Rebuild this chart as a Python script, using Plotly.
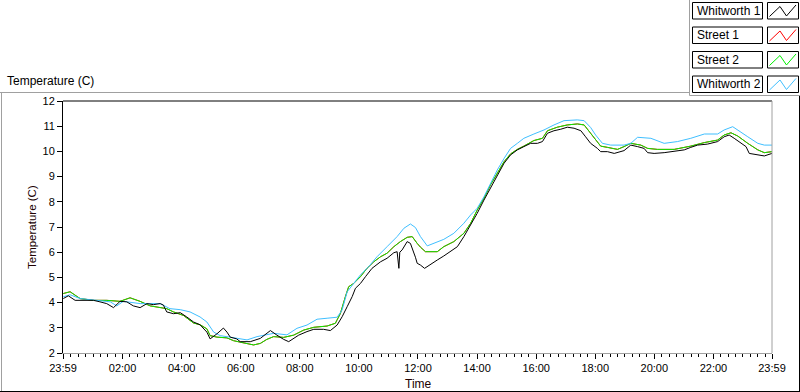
import plotly.graph_objects as go

# ---------------- data (hours since 23:59 start, temperature in C) ----------------
w1_t = [0.01, 0.18, 0.41, 0.58, 1.03, 1.25, 1.48, 1.71, 1.93, 2.16, 2.38, 2.61, 2.84, 3.06,
        3.29, 3.40, 3.51, 3.74, 3.97, 4.19, 4.42, 4.64, 4.87, 4.98, 5.21, 5.43, 5.55, 5.66,
        5.88, 6.00, 6.23, 6.34, 6.68, 6.90, 7.02, 7.24, 7.47, 7.64, 7.81, 7.98, 8.26, 8.49,
        8.82, 9.05, 9.28, 9.45, 9.62, 9.79, 9.90, 10.07, 10.24, 10.46, 10.75, 10.97, 11.20,
        11.31, 11.37, 11.40, 11.48, 11.65, 11.76, 11.88, 11.93, 11.99, 12.10, 12.24, 12.44,
        12.67, 12.89, 13.12, 13.35, 13.57, 13.80, 14.02, 14.25, 14.47, 14.70, 14.93, 15.15,
        15.38, 15.60, 15.83, 16.06, 16.23, 16.40, 16.62, 16.85, 17.07, 17.30, 17.53, 17.69,
        17.86, 18.09, 18.20, 18.43, 18.66, 18.99, 19.22, 19.45, 19.67, 19.79, 20.01, 20.35,
        20.69, 21.03, 21.25, 21.48, 21.82, 22.16, 22.38, 22.55, 22.72, 22.95, 23.12, 23.23,
        23.52, 23.74, 24.00]
w1_v = [4.16, 4.27, 4.09, 4.09, 4.09, 4.03, 3.96, 3.80, 4.05, 4.03, 3.87, 3.80, 3.96, 3.92,
        3.96, 3.90, 3.63, 3.56, 3.60, 3.43, 3.23, 3.12, 2.83, 2.56, 2.76, 2.99, 2.83, 2.63,
        2.56, 2.45, 2.45, 2.45, 2.58, 2.78, 2.89, 2.71, 2.54, 2.45, 2.58, 2.71, 2.85, 2.94,
        2.94, 2.89, 3.11, 3.44, 3.84, 4.24, 4.57, 4.76, 5.03, 5.36, 5.62, 5.76, 5.98,
        6.02, 5.36, 6.00, 6.09, 6.42, 6.35, 6.00, 5.80, 5.56, 5.49, 5.36, 5.53,
        5.69, 5.85, 6.02, 6.22, 6.62, 7.08, 7.54, 8.07, 8.53, 9.06, 9.53, 9.86,
        10.06, 10.19, 10.32, 10.32, 10.39, 10.72, 10.82, 10.88, 10.96, 10.92, 10.82, 10.58,
        10.32, 10.12, 9.99, 9.99, 9.92, 10.03, 10.25, 10.19, 10.12, 9.95, 9.92, 9.95,
        9.99, 10.06, 10.16, 10.25, 10.29, 10.39, 10.58, 10.65, 10.52, 10.32, 10.19, 9.92,
        9.86, 9.82, 9.92]

s2_t = [0.01, 0.24, 0.58, 1.03, 1.48, 1.93, 2.27, 2.61, 2.95, 3.29, 3.51, 3.74, 4.08, 4.19,
        4.42, 4.64, 4.87, 4.98, 5.21, 5.55, 5.77, 6.00, 6.23, 6.45, 6.68, 6.90, 7.13, 7.47,
        7.81, 8.15, 8.49, 8.94, 9.22, 9.39, 9.56, 9.67, 9.84, 10.07, 10.29, 10.52, 10.75,
        10.97, 11.20, 11.42, 11.65, 11.82, 11.99, 12.10, 12.27, 12.67, 12.89, 13.23, 13.57,
        13.80, 14.02, 14.25, 14.47, 14.70, 14.93, 15.15, 15.38, 15.60, 15.94, 16.23, 16.40,
        16.73, 17.07, 17.41, 17.64, 17.86, 18.03, 18.20, 18.43, 18.77, 18.99, 19.22, 19.56,
        19.79, 20.12, 20.69, 21.25, 21.71, 22.16, 22.38, 22.61, 22.84, 23.18, 23.52, 23.74,
        24.00]
s2_v = [4.36, 4.43, 4.16, 4.09, 4.09, 4.05, 4.19, 4.05, 3.87, 3.79, 3.76, 3.63, 3.49, 3.39,
        3.19, 3.12, 2.96, 2.69, 2.63, 2.60, 2.49, 2.43, 2.36, 2.32, 2.38, 2.54, 2.65, 2.62,
        2.71, 2.91, 3.02, 3.07, 3.18, 3.57, 4.24, 4.63, 4.76, 5.03, 5.36, 5.62, 5.82,
        5.96, 6.22, 6.42, 6.59, 6.62, 6.35, 6.20, 6.02, 6.02, 6.22, 6.42, 6.75,
        7.15, 7.67, 8.14, 8.67, 9.13, 9.59, 9.90, 10.08, 10.21, 10.43, 10.52, 10.82,
        10.96, 11.05, 11.09, 11.05, 10.72, 10.45, 10.21, 10.16, 10.08, 10.19, 10.32, 10.25,
        10.12, 10.08, 10.08, 10.21, 10.35, 10.45, 10.65, 10.74, 10.61, 10.32, 10.06, 9.95,
        9.99]

# Street 1 is not visible in the picture: it lies under Street 2 along the whole day
s1_t = list(s2_t)
s1_v = list(s2_v)

w2_t = [0.01, 0.24, 0.58, 1.03, 1.60, 1.82, 2.04, 2.61, 3.29, 3.62, 3.97, 4.30, 4.64, 4.87,
        5.10, 5.32, 5.66, 6.00, 6.23, 6.57, 7.13, 7.58, 7.92, 8.26, 8.60, 8.94, 9.28, 9.45,
        9.62, 9.84, 10.07, 10.35, 10.63, 10.97, 11.31, 11.54, 11.76, 11.93, 12.10, 12.33,
        12.55, 12.89, 13.23, 13.57, 13.80, 14.02, 14.25, 14.47, 14.70, 14.93, 15.15, 15.38,
        15.60, 15.94, 16.28, 16.62, 16.96, 17.41, 17.64, 17.86, 18.03, 18.26, 18.54, 18.99,
        19.22, 19.45, 19.90, 20.35, 20.80, 21.25, 21.71, 22.16, 22.38, 22.67, 22.89, 23.18,
        23.52, 23.74, 24.00]
w2_v = [4.23, 4.31, 4.16, 4.09, 4.03, 3.87, 4.05, 3.96, 3.96, 3.76, 3.72, 3.63, 3.43, 3.23,
        2.83, 2.69, 2.63, 2.59, 2.52, 2.65, 2.78, 2.72, 2.98, 3.11, 3.34, 3.38, 3.42, 3.71,
        4.43, 4.76, 5.10, 5.43, 5.82, 6.22, 6.62, 6.95, 7.12, 6.98, 6.62, 6.25,
        6.35, 6.51, 6.75, 7.15, 7.48, 7.74, 8.20, 8.73, 9.26, 9.72, 10.12, 10.32,
        10.52, 10.69, 10.85, 11.05, 11.22, 11.25, 11.22, 10.95, 10.65, 10.32, 10.25, 10.25,
        10.32, 10.56, 10.52, 10.32, 10.39, 10.52, 10.69, 10.69, 10.85, 10.98, 10.82, 10.58,
        10.32, 10.25, 10.25]

series_names = ["Whitworth 1", "Street 1", "Street 2", "Whitworth 2"]
series_colors = ["#000000", "#ff0000", "#00ee00", "#3fbfff"]

tick_vals = [0, 2.0167, 4.0167, 6.0167, 8.0167, 10.0167, 12.0167, 14.0167, 16.0167,
             18.0167, 20.0167, 22.0167, 24]
tick_text = ["23:59", "02:00", "04:00", "06:00", "08:00", "10:00", "12:00", "14:00",
             "16:00", "18:00", "20:00", "22:00", "23:59"]

# ---------------- layout geometry (pixels) ----------------
W, H = 800, 392
L, R, T, B = 63, 772, 101, 353
FONT = "Liberation Sans"


def px(x):
    return (x - L) / (R - L)


def py(y):
    return (B - y) / (B - T)


fig = go.Figure()
data = {
    "Whitworth 1": (w1_t, w1_v),
    "Street 1": (s1_t, s1_v),
    "Street 2": (s2_t, s2_v),
    "Whitworth 2": (w2_t, w2_v),
}
draw_order = ["Street 1", "Street 2", "Whitworth 2", "Whitworth 1"]
for name in draw_order:
    t, v = data[name]
    c = series_colors[series_names.index(name)]
    fig.add_trace(go.Scatter(x=t, y=v, mode="lines", name=name,
                             line=dict(color=c, width=1), showlegend=False))

shapes = []
# plot frame: top black, right gray
shapes.append(dict(type="line", xref="paper", yref="paper", x0=0, x1=1, y0=1, y1=1,
                   line=dict(color="#000000", width=1)))
shapes.append(dict(type="line", xref="paper", yref="paper", x0=1, x1=1, y0=0, y1=1,
                   line=dict(color="#a0a0a0", width=1)))
# outer chart frame
shapes.append(dict(type="line", xref="paper", yref="paper", x0=px(0), x1=px(690),
                   y0=py(92.5), y1=py(92.5), line=dict(color="#a0a0a0", width=1)))
shapes.append(dict(type="line", xref="paper", yref="paper", x0=px(1.5), x1=px(1.5),
                   y0=py(92.5), y1=py(392), line=dict(color="#a0a0a0", width=1)))
shapes.append(dict(type="line", xref="paper", yref="paper", x0=px(0), x1=px(800),
                   y0=py(391.5), y1=py(391.5), line=dict(color="#000000", width=1)))
shapes.append(dict(type="line", xref="paper", yref="paper", x0=px(799.5), x1=px(799.5),
                   y0=py(95), y1=py(392), line=dict(color="#000000", width=1)))
# legend frame
shapes.append(dict(type="line", xref="paper", yref="paper", x0=px(689.5), x1=px(689.5),
                   y0=py(0), y1=py(95.5), line=dict(color="#a0a0a0", width=1)))
shapes.append(dict(type="line", xref="paper", yref="paper", x0=px(689.5), x1=px(800),
                   y0=py(95.5), y1=py(95.5), line=dict(color="#a0a0a0", width=1)))

annotations = []
row_top = [2.5, 27, 51.5, 76]
for i, name in enumerate(series_names):
    y0 = row_top[i]
    y1 = y0 + 16.5
    shapes.append(dict(type="rect", xref="paper", yref="paper",
                       x0=px(692.5), x1=px(762.5), y0=py(y1), y1=py(y0),
                       line=dict(color="#000000", width=1), fillcolor="white"))
    shapes.append(dict(type="rect", xref="paper", yref="paper",
                       x0=px(767.5), x1=px(798.5), y0=py(y1), y1=py(y0),
                       line=dict(color="#000000", width=1), fillcolor="white"))
    pts = [(769.5, y0 + 14), (780, y0 + 4), (786.5, y0 + 13.5), (796, y0 + 2.5)]
    path = "M " + " L ".join(f"{px(a):.5f},{py(b):.5f}" for a, b in pts)
    shapes.append(dict(type="path", xref="paper", yref="paper", path=path,
                       line=dict(color=series_colors[i], width=1)))
    annotations.append(dict(xref="paper", yref="paper", x=px(695), y=py((y0 + y1) / 2),
                            text=name, showarrow=False, xanchor="left", yanchor="middle",
                            font=dict(family=FONT, size=12, color="#000000")))

annotations.append(dict(xref="paper", yref="paper", x=px(5), y=py(81), text="Temperature (C)",
                        showarrow=False, xanchor="left", yanchor="middle",
                        font=dict(family=FONT, size=12, color="#000000")))
annotations.append(dict(xref="paper", yref="paper", x=px(32), y=py(227), text="Temperature (C)",
                        showarrow=False, xanchor="center", yanchor="middle", textangle=-90,
                        font=dict(family=FONT, size=11.5, color="#200000")))
annotations.append(dict(xref="paper", yref="paper", x=px(418), y=py(384), text="Time",
                        showarrow=False, xanchor="center", yanchor="middle",
                        font=dict(family=FONT, size=12, color="#200000")))

fig.update_layout(
    width=W, height=H,
    margin=dict(l=L, r=W - R, t=T, b=H - B, pad=0),
    paper_bgcolor="white", plot_bgcolor="white",
    showlegend=False,
    shapes=shapes, annotations=annotations,
    hovermode=False,
)
fig.update_xaxes(
    range=[0, 24], tickmode="array", tickvals=tick_vals, ticktext=tick_text,
    ticks="outside", ticklen=5, tickcolor="#000000", tickwidth=1,
    showline=True, linecolor="#a0a0a0", linewidth=1,
    showgrid=False, zeroline=False,
    tickfont=dict(family=FONT, size=11, color="#000000"),
    minor=dict(ticks="outside", ticklen=3, dtick=0.25, tick0=0.0167,
               tickcolor="#000000", tickwidth=1, showgrid=False),
)
fig.update_yaxes(
    range=[2, 12], dtick=1, tick0=2,
    ticks="outside", ticklen=5, tickcolor="#000000", tickwidth=1,
    showline=True, linecolor="#000000", linewidth=1,
    showgrid=False, zeroline=False,
    tickfont=dict(family=FONT, size=11, color="#000000"),
)

fig.write_html("out.html", config={"displayModeBar": False},
               post_script="document.body.style.margin='0';document.body.style.overflow='hidden';")
